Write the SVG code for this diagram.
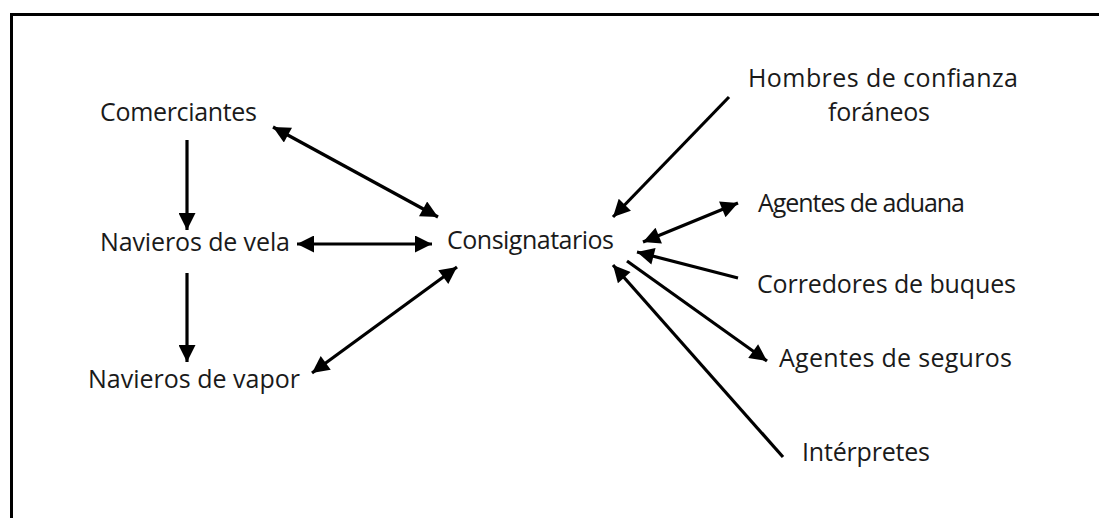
<svg xmlns="http://www.w3.org/2000/svg" width="1099" height="518" viewBox="0 0 1099 518">
<style>
text{font-family:"Open Sans","Noto Sans","Liberation Sans",sans-serif;font-size:25px;fill:#1a1a1a}
.c{stroke:#000;stroke-width:3.2;fill:none}
</style>
<defs>
<marker id="ah" viewBox="0 0 10 10" refX="10" refY="5" markerWidth="19" markerHeight="17" markerUnits="userSpaceOnUse" orient="auto-start-reverse">
<path d="M0,0 L10,5 L0,10 z" fill="#000"/>
</marker>
</defs>
<rect width="1099" height="518" fill="#fff"/>
<path d="M11.5,518 V14.5 H1099" stroke="#000" stroke-width="3" fill="none"/>
<g id="n-comerciantes"><text x="100" y="121" textLength="157">Comerciantes</text></g>
<g id="n-navieros-vela"><text x="100" y="251" textLength="190">Navieros de vela</text></g>
<g id="n-navieros-vapor"><text x="88" y="388" textLength="212">Navieros de vapor</text></g>
<g id="n-consignatarios"><text x="447" y="249" textLength="167">Consignatarios</text></g>
<g id="n-hombres"><text x="748" y="87" textLength="270">Hombres de confianza</text><text x="828" y="121" textLength="102">foráneos</text></g>
<g id="n-aduana"><text x="758" y="212" textLength="207">Agentes de aduana</text></g>
<g id="n-corredores"><text x="757" y="293" textLength="259">Corredores de buques</text></g>
<g id="n-seguros"><text x="779" y="367" textLength="233">Agentes de seguros</text></g>
<g id="n-interpretes"><text x="802" y="461" textLength="128">Intérpretes</text></g>
<g id="connectors">
<line class="c" x1="187" y1="140" x2="187" y2="230" marker-end="url(#ah)"/>
<line class="c" x1="187" y1="273" x2="187" y2="362" marker-end="url(#ah)"/>
<line class="c" x1="273" y1="127" x2="438" y2="217" marker-start="url(#ah)" marker-end="url(#ah)"/>
<line class="c" x1="297" y1="244" x2="432" y2="244" marker-start="url(#ah)" marker-end="url(#ah)"/>
<line class="c" x1="312" y1="373" x2="457" y2="267" marker-start="url(#ah)" marker-end="url(#ah)"/>
<line class="c" x1="729" y1="97" x2="613" y2="217" marker-end="url(#ah)"/>
<line class="c" x1="643" y1="242" x2="738" y2="203" marker-start="url(#ah)" marker-end="url(#ah)"/>
<line class="c" x1="738" y1="278" x2="637" y2="252" marker-end="url(#ah)"/>
<line class="c" x1="627" y1="261" x2="767" y2="361" marker-end="url(#ah)"/>
<line class="c" x1="783" y1="457" x2="613" y2="265" marker-end="url(#ah)"/>
</g>
</svg>
